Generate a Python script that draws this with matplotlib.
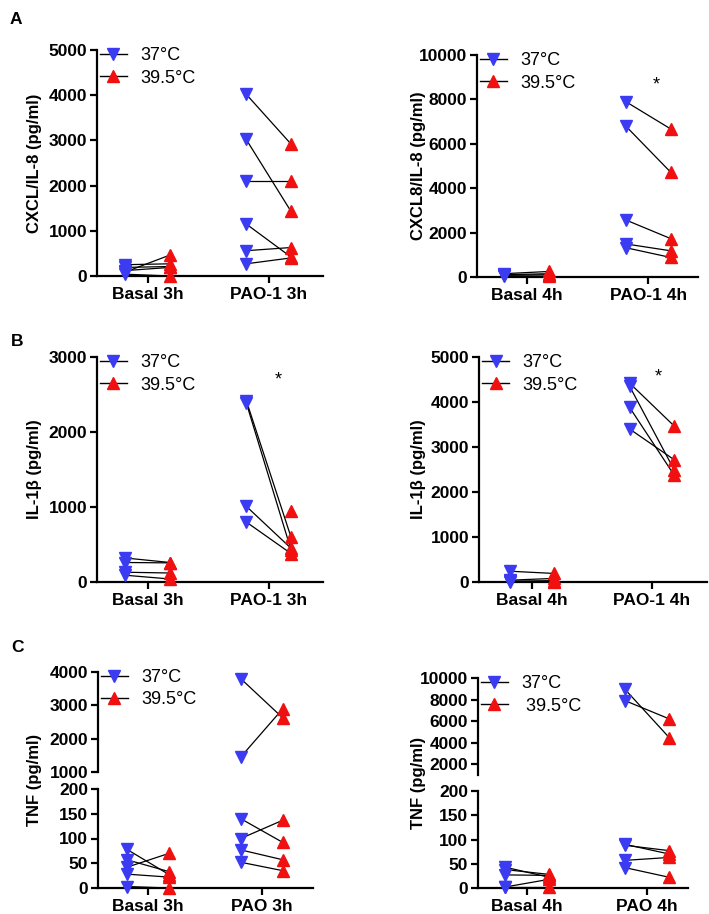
import numpy as np
import matplotlib
matplotlib.use("Agg")
import matplotlib.pyplot as plt
from matplotlib.lines import Line2D

plt.rcParams['font.family'] = ['Liberation Sans', 'DejaVu Sans']

BLUE = '#3b3bf2'
RED = '#f01010'

# ---------------- data ----------------
# Panel A left: CXCL/IL-8, 3h
a1_categories = ['Basal 3h', 'PAO-1 3h']
a1_basal_37 = [90, 250, 190, 40, 120]
a1_basal_395 = [465, 270, 210, 0, 190]
a1_pao_37 = [4020, 3020, 2100, 1150, 560, 270]
a1_pao_395 = [2920, 1430, 2100, 420, 630, 400]

# Panel A right: CXCL8/IL-8, 4h
a2_categories = ['Basal 4h', 'PAO-1 4h']
a2_basal_37 = [150, 100, 80, 50]
a2_basal_395 = [250, 150, 100, 30]
a2_pao_37 = [7900, 6800, 2570, 1490, 1320]
a2_pao_395 = [6670, 4720, 1730, 1180, 880]

# Panel B left: IL-1beta, 3h
b1_categories = ['Basal 3h', 'PAO-1 3h']
b1_basal_37 = [320, 260, 130, 90]
b1_basal_395 = [260, 255, 120, 40]
b1_pao_37 = [2420, 2390, 1010, 800, np.nan]
b1_pao_395 = [600, 430, 450, 380, 950]

# Panel B right: IL-1beta, 4h
b2_categories = ['Basal 4h', 'PAO-1 4h']
b2_basal_37 = [240, 40, 20, 10]
b2_basal_395 = [190, 80, 30, 10]
b2_pao_37 = [4420, 4350, 3880, 3400]
b2_pao_395 = [3470, 2500, 2380, 2720]

# Panel C left: TNF, 3h (broken axis)
c1_categories = ['Basal 3h', 'PAO 3h']
c1_basal_37 = [78, 57, 42, 28, 3]
c1_basal_395 = [27, 33, 70, 22, 0]
c1_pao_37 = [3800, 1450, 140, 100, 77, 52]
c1_pao_395 = [2620, 2900, 92, 137, 57, 35]

# Panel C right: TNF, 4h (broken axis)
c2_categories = ['Basal 4h', 'PAO 4h']
c2_basal_37 = [43, 38, 27, 2, 2]
c2_basal_395 = [22, 28, 26, 18, 2]
c2_pao_37 = [8950, 7900, 90, 88, 57, 42]
c2_pao_395 = [4450, 6200, 70, 77, 63, 22]

legend_labels = ['37\u00b0C', '39.5\u00b0C']
legend_labels_c2 = ['37\u00b0C', ' 39.5\u00b0C']

# ---------------- figure ----------------
W, H = 709, 914
fig = plt.figure(figsize=(W / 100, H / 100), dpi=100)


def rect(x0, y0, x1, y1):
    return [x0 / W, 1 - y1 / H, (x1 - x0) / W, (y1 - y0) / H]


OFF = 0.185
TICK_FS = 12.5
LBL_FS = 12
MS = 9


def draw_pairs(ax, basal37, basal395, pao37, pao395, ylim):
    lo, hi = ylim
    for ci, (v37, v395) in enumerate([(basal37, basal395), (pao37, pao395)]):
        for a, b in zip(v37, v395):
            ax.plot([ci - OFF, ci + OFF], [a, b], color='black', lw=0.9, zorder=2)
        v37 = np.asarray(v37, dtype=float)
        v395 = np.asarray(v395, dtype=float)
        s37 = np.where((v37 >= lo) & (v37 <= hi), v37, np.nan)
        s395 = np.where((v395 >= lo) & (v395 <= hi), v395, np.nan)
        ax.plot(np.full(len(s37), ci - OFF), s37, linestyle='none', marker='v',
                color=BLUE, ms=MS, mec=BLUE, zorder=3, clip_on=False)
        ax.plot(np.full(len(s395), ci + OFF), s395, linestyle='none', marker='^',
                color=RED, ms=MS, mec=RED, zorder=3, clip_on=False)


def style(ax, bottom=True):
    for s in ['top', 'right']:
        ax.spines[s].set_visible(False)
    ax.spines['left'].set_linewidth(1.6)
    ax.spines['bottom'].set_linewidth(1.6)
    ax.tick_params(axis='y', width=1.6, length=5, labelsize=TICK_FS, pad=2)
    ax.tick_params(axis='x', width=1.6, length=5, labelsize=TICK_FS, pad=3)
    for t in ax.get_yticklabels():
        t.set_fontweight('bold')
    for t in ax.get_xticklabels():
        t.set_fontweight('bold')
    if not bottom:
        ax.spines['bottom'].set_visible(False)
        ax.tick_params(axis='x', bottom=False, labelbottom=False)


def add_legend(ax, labels, anchor):
    handles = [Line2D([0], [0], color='black', lw=1.0, marker='v', mfc=BLUE, mec=BLUE, ms=MS),
               Line2D([0], [0], color='black', lw=1.0, marker='^', mfc=RED, mec=RED, ms=MS)]
    ax.legend(handles, labels, loc='upper left', bbox_to_anchor=anchor, frameon=False,
              fontsize=13, handlelength=1.5, handletextpad=0.75, labelspacing=0.3,
              borderpad=0, borderaxespad=0)


def simple_panel(px, xlim, ylim, yticks, cats, data, ylabel, ylab_x, legend_anchor,
                 star=None):
    ax = fig.add_axes(rect(*px))
    draw_pairs(ax, *data, ylim)
    ax.set_xlim(*xlim)
    ax.set_ylim(*ylim)
    ax.set_yticks(yticks)
    ax.set_xticks([0, 1])
    ax.set_xticklabels(cats)
    style(ax)
    add_legend(ax, legend_labels, legend_anchor)
    fig.text(ylab_x / W, 1 - ((px[1] + px[3]) / 2) / H, ylabel, rotation=90,
             ha='center', va='center', fontsize=LBL_FS, fontweight='bold')
    if star is not None:
        ax.text(star[0], star[1], '*', ha='center', va='center', fontsize=13)
    return ax


# Panel A left
simple_panel((97, 50, 323, 276), (-0.42, 1.45), (0, 5000), range(0, 5001, 1000),
             a1_categories, (a1_basal_37, a1_basal_395, a1_pao_37, a1_pao_395),
             'CXCL/IL-8 (pg/ml)', 35, (0.013, 1.012))
# Panel A right
simple_panel((477, 55, 698, 277), (-0.41, 1.41), (0, 10000), range(0, 10001, 2000),
             a2_categories, (a2_basal_37, a2_basal_395, a2_pao_37, a2_pao_395),
             'CXCL8/IL-8 (pg/ml)', 418, (0.013, 1.012), star=(1.07, 8650))
# Panel B left
simple_panel((97, 357, 323, 582), (-0.42, 1.45), (0, 3000), range(0, 3001, 1000),
             b1_categories, (b1_basal_37, b1_basal_395, b1_pao_37, b1_pao_395),
             'IL-1\u03b2 (pg/ml)', 35, (0.013, 1.012), star=(1.08, 2690))
# Panel B right
simple_panel((479, 357, 707, 582), (-0.44, 1.46), (0, 5000), range(0, 5001, 1000),
             b2_categories, (b2_basal_37, b2_basal_395, b2_pao_37, b2_pao_395),
             'IL-1\u03b2 (pg/ml)', 418, (0.013, 1.012), star=(1.05, 4550))


def broken_panel(px_top, px_bot, xlim, ylim_top, yticks_top, yticks_bot, cats, data,
                 ylab_x, legend_labels_, legend_anchor):
    axt = fig.add_axes(rect(*px_top))
    axb = fig.add_axes(rect(*px_bot))
    draw_pairs(axt, *data, ylim_top)
    draw_pairs(axb, *data, (0, 200))
    for ax in (axt, axb):
        ax.set_xlim(*xlim)
    axt.set_ylim(*ylim_top)
    axt.set_yticks(yticks_top)
    axb.set_ylim(0, 200)
    axb.set_yticks(yticks_bot)
    axb.set_xticks([0, 1])
    axb.set_xticklabels(cats)
    style(axt, bottom=False)
    style(axb)
    add_legend(axt, legend_labels_, legend_anchor)
    yc = ((px_top[1] + px_bot[3]) / 2)
    fig.text(ylab_x / W, 1 - yc / H, 'TNF (pg/ml)', rotation=90, ha='center',
             va='center', fontsize=LBL_FS, fontweight='bold')
    return axt, axb


broken_panel((98, 672, 313, 772), (98, 789, 313, 888), (-0.44, 1.45), (1000, 4000),
             range(1000, 4001, 1000), range(0, 201, 50), c1_categories,
             (c1_basal_37, c1_basal_395, c1_pao_37, c1_pao_395), 35, legend_labels,
             (0.013, 1.03))
broken_panel((478, 678, 688, 775), (478, 791, 688, 888), (-0.41, 1.34), (1000, 10000),
             range(2000, 10001, 2000), range(0, 201, 50), c2_categories,
             (c2_basal_37, c2_basal_395, c2_pao_37, c2_pao_395), 418, legend_labels_c2,
             (0.013, 1.03))

# Panel letters
for letter, (x, y) in zip(['A', 'B', 'C'], [(10, 20), (11, 342), (11, 647)]):
    fig.text(x / W, 1 - y / H, letter, ha='left', va='center', fontsize=12.5,
             fontweight='bold')

fig.savefig('out.png', dpi=100)
